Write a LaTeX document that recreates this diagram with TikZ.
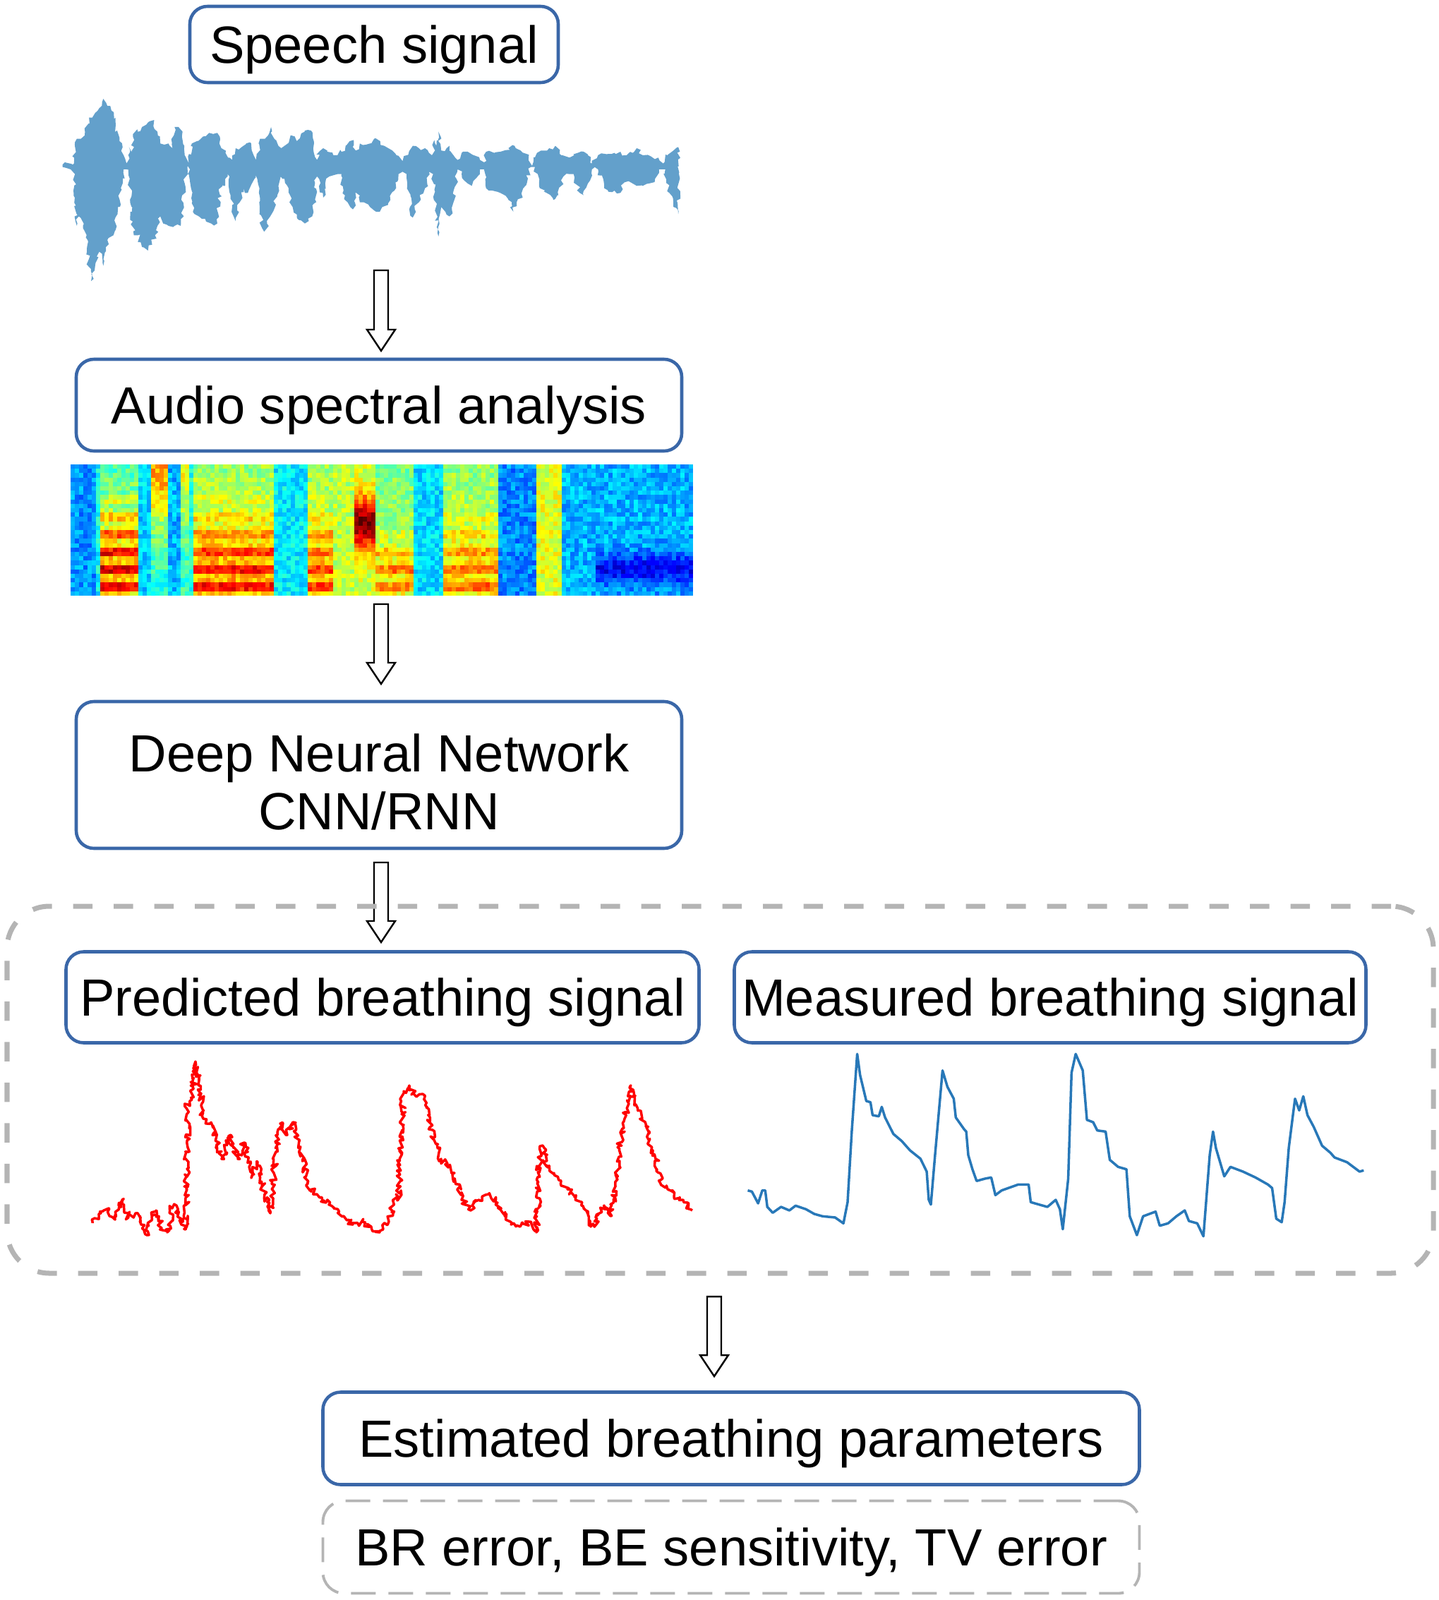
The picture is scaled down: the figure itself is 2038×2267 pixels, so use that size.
\documentclass[tikz,border=0pt]{standalone}
\usepackage{fontspec}
\setmainfont{Liberation Sans}
\usetikzlibrary{calc,decorations.pathmorphing}

\definecolor{boxblue}{RGB}{58,103,168}
\definecolor{speechblue}{RGB}{99,160,203}
\definecolor{dashgray}{RGB}{180,180,180}
\definecolor{measblue}{RGB}{40,120,184}

\newcommand{\hollowarrow}[2]{%
	\draw[blockarrow] let \p1=(#1), \p2=(#2) in
		(\x1-1mm,\y1) -- (\x1+1mm,\y1) -- (\x1+1mm,\y2+3mm) -- (\x1+2mm,\y2+3mm)
		-- (\x2,\y2) -- (\x1-2mm,\y2+3mm) -- (\x1-1mm,\y2+3mm) -- cycle;}

\begin{document}
\begin{tikzpicture}[
		x=0.1mm, y=-0.1mm,
		box/.style={draw=boxblue, line width=1.3pt, rounded corners=2.5mm, fill=white, inner sep=0pt, text depth=0pt, align=center, font=\fontsize{21.1}{23.5}\selectfont},
		groupbox/.style={draw=dashgray, line width=2pt, dash pattern=on 2.75mm off 3mm, rounded corners=6mm, inner sep=0pt},
		blockarrow/.style={draw=black, fill=white, line width=0.7pt},
		predline/.style={red, line width=1pt, line join=round, decorate, decoration={random steps, segment length=0.3mm, amplitude=0.45mm}},
		measline/.style={measblue, line width=1pt, line join=round}
	]
	\useasboundingbox (0,0) rectangle (2038,2267);

	\node[box, minimum width=52.2mm, minimum height=10.8mm] (speech) at (530,63) {Speech signal};

	\begin{scope}[shift={(80,120)}, xscale=0.577, yscale=0.3333]
		\fill[speechblue, decorate, decoration={random steps, segment length=0.5mm, amplitude=0.35mm}] (15,340) -- (40,340) -- (45,255) -- (50,230) -- (60,230) -- (70,200) -- (80,140) -- (95,120) -- (105,100) -- (115,60) -- (125,90) -- (135,110) -- (145,160) -- (155,240) -- (165,300) -- (172,335) -- (178,265) -- (183,300) -- (188,210) -- (200,200) -- (210,180) -- (225,160) -- (240,150) -- (248,200) -- (255,250) -- (265,255) -- (275,250) -- (285,270) -- (290,180) -- (300,180) -- (308,220) -- (315,300) -- (322,345) -- (330,260) -- (345,240) -- (360,220) -- (375,205) -- (395,205) -- (400,250) -- (405,270) -- (415,290) -- (425,310) -- (432,320) -- (440,270) -- (455,265) -- (465,250) -- (475,245) -- (482,290) -- (490,320) -- (500,230) -- (512,230) -- (520,215) -- (527,180) -- (535,230) -- (545,260) -- (552,270) -- (560,260) -- (575,215) -- (590,240) -- (610,195) -- (625,195) -- (632,240) -- (640,320) -- (648,280) -- (655,270) -- (665,285) -- (680,300) -- (690,300) -- (700,285) -- (710,260) -- (720,240) -- (730,235) -- (735,280) -- (745,250) -- (760,255) -- (770,250) -- (780,230) -- (795,240) -- (805,260) -- (815,270) -- (825,280) -- (835,300) -- (850,325) -- (860,300) -- (875,260) -- (890,270) -- (905,270) -- (915,290) -- (922,300) -- (928,235) -- (933,260) -- (938,200) -- (945,280) -- (958,270) -- (965,260) -- (975,300) -- (985,320) -- (995,290) -- (1010,285) -- (1025,300) -- (1040,320) -- (1050,330) -- (1055,285) -- (1075,290) -- (1090,285) -- (1110,270) -- (1125,260) -- (1140,280) -- (1160,300) -- (1168,345) -- (1180,290) -- (1190,280) -- (1210,270) -- (1225,260) -- (1240,300) -- (1260,310) -- (1280,290) -- (1295,285) -- (1305,300) -- (1315,335) -- (1330,300) -- (1350,295) -- (1370,290) -- (1385,285) -- (1400,300) -- (1415,290) -- (1425,270) -- (1440,300) -- (1460,305) -- (1478,310) -- (1490,335) -- (1500,300) -- (1515,280) -- (1527,265)
			-- (1527,550) -- (1515,500) -- (1505,460) -- (1495,360) -- (1480,370) -- (1470,400) -- (1455,420) -- (1440,430) -- (1425,430) -- (1415,420) -- (1405,410) -- (1395,415) -- (1385,460) -- (1370,450) -- (1355,455) -- (1345,440) -- (1330,360) -- (1315,360) -- (1305,420) -- (1295,470) -- (1285,460) -- (1270,380) -- (1260,380) -- (1245,390) -- (1230,470) -- (1220,490) -- (1200,450) -- (1185,430) -- (1175,350) -- (1165,350) -- (1155,420) -- (1145,480) -- (1130,500) -- (1122,540) -- (1110,490) -- (1090,460) -- (1070,450) -- (1055,440) -- (1050,360) -- (1040,360) -- (1020,430) -- (1010,420) -- (995,380) -- (985,360) -- (975,500) -- (965,560) -- (955,540) -- (945,520) -- (938,645) -- (932,520) -- (925,380) -- (915,370) -- (905,440) -- (890,500) -- (880,530) -- (875,565) -- (868,520) -- (860,380) -- (850,370) -- (840,380) -- (830,450) -- (820,490) -- (800,520) -- (785,540) -- (770,520) -- (755,500) -- (745,500) -- (735,440) -- (728,530) -- (715,500) -- (705,450) -- (700,380) -- (690,380) -- (680,385) -- (670,390) -- (660,420) -- (655,480) -- (645,400) -- (640,390) -- (628,560) -- (610,590) -- (595,575) -- (580,520) -- (570,440) -- (560,400) -- (555,400) -- (548,380) -- (545,430) -- (535,500) -- (525,560) -- (517,590) -- (510,625) -- (505,610) -- (498,500) -- (490,380) -- (480,420) -- (470,460) -- (460,440) -- (450,500) -- (440,580) -- (435,560) -- (425,390) -- (420,380) -- (410,430) -- (405,400) -- (395,590) -- (380,590) -- (365,570) -- (350,560) -- (335,540) -- (328,360) -- (322,345) -- (315,420) -- (305,600) -- (290,600) -- (275,600) -- (262,590) -- (255,560) -- (248,600) -- (242,640) -- (235,680) -- (225,705) -- (210,690) -- (200,640) -- (190,640) -- (185,540) -- (180,400) -- (172,360) -- (165,360) -- (158,440) -- (150,550) -- (140,640) -- (125,660) -- (115,770) -- (105,710) -- (95,770) -- (85,835) -- (75,690) -- (65,600) -- (55,560) -- (50,600) -- (45,480) -- (40,370) -- (35,360) -- (15,350) -- cycle;
	\end{scope}

	\node[box, minimum width=85.8mm, minimum height=13mm] (audio) at (537,574) {Audio spectral analysis};

	\pgfmathsetseed{7}
	\foreach \ka/\kb/\lo/\hi/\tc/\tw/\hm in {0/5/0.27/0.27/0.5/1/0, 6/6/0.38/0.38/0.5/1/0, 7/15/0.42/0.95/0.8/0.5/0.6, 16/18/0.33/0.33/0.5/1/0, 19/22/0.4/0.72/0/0.5/0, 23/25/0.3/0.3/0.5/1/0, 26/27/0.42/0.62/0/0.5/0, 28/28/0.4/0.4/0.5/1/0, 29/47/0.52/0.9/0.85/0.45/0.6, 48/55/0.36/0.36/0.5/1/0, 56/61/0.52/0.85/0.85/0.45/0.6, 62/66/0.56/0.56/0.5/1/0, 67/71/0.58/0.99/0.45/0.2/0, 72/80/0.5/0.78/0.85/0.3/0.6, 81/87/0.34/0.34/0.5/1/0, 88/100/0.52/0.8/0.85/0.4/0.6, 101/109/0.26/0.26/0.5/1/0, 110/115/0.6/0.6/0.5/1/0, 116/123/0.3/0.3/0.5/1/0, 124/146/0.3/0.12/0.8/0.12/0}
		\foreach \kk in {\ka,...,\kb}
			\foreach \rr in {0,...,29} {
				\pgfmathsetmacro{\tpos}{(\rr+0.5)/30}
				\pgfmathsetmacro{\lev}{\lo+(\hi-\lo)*exp(-min(9,(\tpos-\tc)*(\tpos-\tc)/(\tw*\tw)))*(1-\hm+\hm*(0.5+0.5*cos(\tpos*2700)))+0.07*rand}
				\pgfmathsetmacro{\jr}{min(1,max(0,1.5-abs(4*\lev-3)))}
				\pgfmathsetmacro{\jg}{min(1,max(0,1.5-abs(4*\lev-2)))}
				\pgfmathsetmacro{\jb}{min(1,max(0,1.5-abs(4*\lev-1)))}
				\definecolor{jetcell}{rgb}{\jr,\jg,\jb}
				\fill[jetcell] (100+6*\kk,658+6.2*\rr) rectangle ++(6.4,6.6);
			}

	\node[box, minimum width=85.8mm, minimum height=20.8mm] (dnn) at (537,1098) {\rule{0pt}{7.3mm}Deep Neural Network\\CNN/RNN};

	\coordinate (a1s) at (540,383);
	\coordinate (a1e) at (540,497);
	\coordinate (a2s) at (540,856);
	\coordinate (a2e) at (540,969);
	\coordinate (a3s) at (540,1222);
	\coordinate (a3e) at (540,1335);
	\coordinate (a4s) at (1012,1837);
	\coordinate (a4e) at (1012,1950);
	\hollowarrow{a1s}{a1e}
	\hollowarrow{a2s}{a2e}
	\hollowarrow{a3s}{a3e}
	\hollowarrow{a4s}{a4e}

	\node[groupbox, minimum width=202.1mm, minimum height=52mm] (signals) at (1020.5,1544) {};

	\node[box, minimum width=89.7mm, minimum height=12.9mm] (pred) at (542,1413) {Predicted breathing signal};
	\node[box, minimum width=89.5mm, minimum height=12.9mm] (meas) at (1488,1413) {Measured breathing signal};

	\draw[predline] plot coordinates {(131,1733) (140,1720) (154,1712) (163,1728) (173,1700) (182,1725) (192,1719) (200,1735) (208,1750) (215,1722) (221,1715) (229,1740) (237,1746) (244,1712) (250,1708) (257,1735) (263,1742) (266,1565) (272,1558) (277,1504) (282,1531) (288,1585) (301,1596) (314,1642) (327,1608) (337,1642) (346,1619) (356,1669) (365,1646) (375,1692) (383,1719) (388,1662) (397,1592) (407,1608) (415,1590) (423,1623) (429,1642) (436,1677) (449,1692) (462,1704) (474,1712) (487,1723) (500,1735) (513,1731) (526,1738) (538,1746) (551,1731) (561,1692) (564,1700) (572,1546) (580,1538) (590,1554) (599,1550) (608,1581) (615,1615) (625,1642) (635,1654) (644,1662) (654,1700) (667,1715) (679,1700) (692,1692) (705,1704) (715,1723) (724,1735) (737,1738) (750,1731) (760,1746) (765,1642) (769,1623) (776,1654) (785,1662) (795,1673) (804,1685) (814,1696) (827,1712) (837,1738) (846,1727) (856,1708) (865,1723) (872,1681) (878,1623) (885,1585) (894,1538) (901,1565) (910,1585) (920,1615) (929,1642) (936,1677) (946,1685) (955,1696) (968,1700) (981,1715)};

	\draw[measline] plot coordinates {(1059.5,1686.7) (1065.4,1688.3) (1074.2,1705) (1080.1,1686.7) (1084.3,1686.7) (1087.2,1710) (1094.9,1718.3) (1106.7,1710) (1118.5,1715) (1127.3,1708.3) (1142,1713.3) (1153.8,1720) (1165.6,1723.3) (1183.3,1725) (1195.1,1733.3) (1201,1703.3) (1206.9,1603.3) (1214.6,1493.3) (1218.7,1523.3) (1227.5,1560) (1233.4,1561.7) (1236.4,1580) (1245.2,1581.7) (1249.4,1568.3) (1254.1,1583.3) (1265.9,1606.7) (1277.7,1616.7) (1289.5,1630) (1304.2,1641.7) (1313.1,1660) (1316,1700) (1319,1706.7) (1324.9,1636.7) (1335.5,1516.7) (1342.5,1540) (1351.4,1556.7) (1354.3,1583.3) (1366.1,1600) (1369.1,1603.3) (1372,1636.7) (1377.9,1656.7) (1383.8,1673.3) (1395.6,1670) (1404.5,1668.3) (1410.4,1693.3) (1419.2,1686.7) (1442.8,1678.3) (1457.5,1678.3) (1460.5,1703.3) (1472.3,1706.7) (1484.1,1710) (1495.9,1700) (1501.8,1713.3) (1505.9,1741.7) (1513.6,1670) (1518.3,1520) (1524.2,1493.3) (1534.2,1516.7) (1540.1,1586.7) (1548.9,1590) (1554.8,1601.7) (1566.6,1603.3) (1572.5,1643.3) (1584.3,1653.3) (1596.1,1656.7) (1600.8,1723.3) (1610.9,1750) (1619.7,1723.3) (1637.4,1716.7) (1643.3,1736.7) (1655.1,1733.3) (1666.9,1723.3) (1678.7,1715) (1684.6,1730) (1696.4,1733.3) (1705.2,1751.7) (1714.1,1636.7) (1718.8,1603.3) (1722.9,1626.7) (1734.7,1666.7) (1743.5,1653.3) (1761.2,1660) (1778.9,1668.3) (1796.6,1678.3) (1802.5,1683.3) (1808.4,1726.7) (1816.1,1731.7) (1820.2,1703.3) (1826.1,1626.7) (1832,1580) (1835,1556.7) (1840.9,1573.3) (1846.7,1553.3) (1852.6,1580) (1861.5,1596.7) (1873.3,1623.3) (1885.1,1633.3) (1891,1640) (1908.7,1646.7) (1926.4,1660) (1932.3,1658.3)};

	\node[box, minimum width=115.7mm, minimum height=13.1mm] (est) at (1036,2038) {Estimated breathing parameters};
	\node[box, draw=dashgray, line width=1.1pt, dash pattern=on 3.5mm off 1.8mm, rounded corners=3mm, minimum width=115.7mm, minimum height=13.1mm] (metrics) at (1036,2192) {BR error, BE sensitivity, TV error};
\end{tikzpicture}
\end{document}
